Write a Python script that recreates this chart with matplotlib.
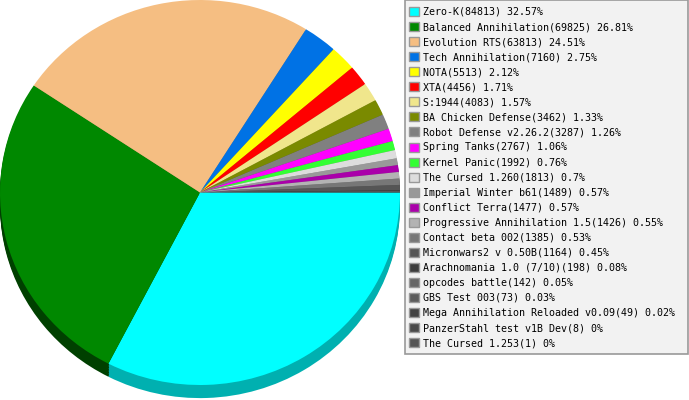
import matplotlib
matplotlib.use("Agg")
import matplotlib.pyplot as plt
from matplotlib.patches import Rectangle
from matplotlib.colors import to_rgb

names = ["Zero-K", "Balanced Annihilation", "Evolution RTS", "Tech Annihilation",
         "NOTA", "XTA", "S:1944", "BA Chicken Defense", "Robot Defense v2.26.2",
         "Spring Tanks", "Kernel Panic", "The Cursed 1.260", "Imperial Winter b61",
         "Conflict Terra", "Progressive Annihilation 1.5", "Contact beta 002",
         "Micronwars2 v 0.50B", "Arachnomania 1.0 (7/10)", "opcodes battle",
         "GBS Test 003", "Mega Annihilation Reloaded v0.09",
         "PanzerStahl test v1B Dev", "The Cursed 1.253"]
values = [84813, 69825, 63813, 7160, 5513, 4456, 4083, 3462, 3287, 2767, 1992,
          1813, 1489, 1477, 1426, 1385, 1164, 198, 142, 73, 49, 8, 1]
percents = ["32.57", "26.81", "24.51", "2.75", "2.12", "1.71", "1.57", "1.33",
            "1.26", "1.06", "0.76", "0.7", "0.57", "0.57", "0.55", "0.53",
            "0.45", "0.08", "0.05", "0.03", "0.02", "0", "0"]
colors = ["#00ffff", "#008800", "#f5be82", "#0072e5", "#ffff00", "#ff0000",
          "#f0e68c", "#7a8a00", "#808080", "#ff00ff", "#33ff33", "#dddddd",
          "#999999", "#aa00aa", "#b3b3b3", "#777777", "#555555", "#3d3d3d",
          "#666666", "#5c5c5c", "#444444", "#4a4a4a", "#555555"]

labels = [f"{n}({v}) {p}%" for n, v, p in zip(names, values, percents)]


def darken(c, f):
    r, g, b = to_rgb(c)
    return (r * f, g * f, b * f)


shadow = [darken(c, 0.69) for c in colors]
shadow[1] = darken(colors[1], 0.47)

W, H = 689, 400
fig = plt.figure(figsize=(W / 100, H / 100), dpi=100)
ax = fig.add_axes([0, 0, 400 / W, 1])

depth = 0.068
nlayers = 8
for i in range(nlayers, 0, -1):
    ax.pie(values, colors=shadow, startangle=0, counterclock=False,
           radius=1, center=(0, -depth * i / nlayers),
           wedgeprops=dict(linewidth=0, antialiased=True))
ax.pie(values, colors=colors, startangle=0, counterclock=False,
       radius=1, center=(0, 0), wedgeprops=dict(linewidth=0, antialiased=True))
ax.set_aspect("auto")
ax.set_xlim(-1, 1)
ax.set_ylim(-(H - 192.5) / 192.5, 1.0)
ax.axis("off")

# legend frame
fig.patches.append(Rectangle((405 / W, (H - 354) / H), (688 - 405) / W, 354 / H,
                             transform=fig.transFigure, facecolor="#f2f2f2",
                             edgecolor="#999999", linewidth=1.2, zorder=0))

handles = [Rectangle((0, 0), 1, 1, facecolor=c, edgecolor="#999999", linewidth=1.0)
           for c in colors]
fig.legend(handles, labels, loc="upper left",
           bbox_to_anchor=(409 / W, (H - 7) / H), frameon=False,
           prop=dict(family="DejaVu Sans Mono", size=7.2),
           handlelength=1.0, handleheight=1.0, handletextpad=0.38,
           labelspacing=0.505, borderpad=0, borderaxespad=0)

fig.savefig("out.png", dpi=100)
